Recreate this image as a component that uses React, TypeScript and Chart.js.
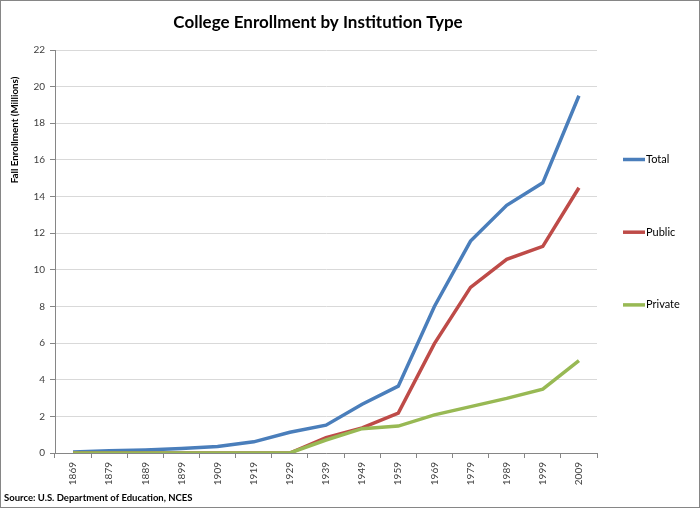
import React, { useEffect, useRef } from 'react';
import { Chart, registerables } from 'chart.js';
Chart.register(...registerables);

const years = ['1869', '1879', '1889', '1899', '1909', '1919', '1929', '1939', '1949', '1959', '1969', '1979', '1989', '1999', '2009'];
const totalValues = [0.05, 0.12, 0.16, 0.24, 0.36, 0.61, 1.13, 1.52, 2.66, 3.65, 8.0, 11.57, 13.52, 14.75, 19.5];
const publicValues = [0, 0, 0, 0, 0, 0, 0, 0.84, 1.37, 2.18, 5.97, 9.04, 10.57, 11.28, 14.48];
const privateValues = [0, 0, 0, 0, 0, 0, 0, 0.71, 1.33, 1.47, 2.08, 2.53, 2.98, 3.49, 5.04];
const seriesNames = ['Total', 'Public', 'Private'];
const seriesColors = ['#4a7ebb', '#be4b48', '#98b954'];

const titleText = 'College Enrollment by Institution Type';
const yTitleText = 'Fall Enrollment (Millions)';
const sourceText = 'Source: U.S. Department of Education, NCES';

const FONT = 'Lato, "Open Sans", sans-serif';

export default function App() {
  const ref = useRef<HTMLCanvasElement>(null);
  useEffect(() => {
    if (!ref.current) return;
    const overlay = {
      id: 'overlay',
      afterDraw(chart: any) {
        const ctx = chart.ctx;
        ctx.save();
        ctx.strokeStyle = '#868686';
        ctx.lineWidth = 1;
        ctx.strokeRect(0.5, 0.5, 699, 507);
        ctx.fillStyle = '#000';
        ctx.textBaseline = 'middle';
        ctx.textAlign = 'center';
        ctx.font = `bold 17px ${FONT}`;
        ctx.fillText(titleText, 318, 23);
        ctx.save();
        ctx.translate(15, 130);
        ctx.rotate(-Math.PI / 2);
        ctx.font = `bold 9.8px ${FONT}`;
        ctx.fillText(yTitleText, 0, 0);
        ctx.restore();
        ctx.textAlign = 'left';
        ctx.font = `bold 9.5px ${FONT}`;
        ctx.fillText(sourceText, 4, 498);
        ctx.font = `11px ${FONT}`;
        chart.data.datasets.forEach((ds: any, i: number) => {
          const y = 159.5 + i * 72.7;
          ctx.strokeStyle = ds.borderColor;
          ctx.lineWidth = 3.5;
          ctx.beginPath();
          ctx.moveTo(623, y);
          ctx.lineTo(645, y);
          ctx.stroke();
          ctx.fillStyle = '#000';
          ctx.fillText(ds.label, 646, y);
        });
        ctx.restore();
      },
    };
    const series = [totalValues, publicValues, privateValues];
    const chart = new Chart(ref.current, {
      type: 'line',
      data: {
        labels: years,
        datasets: series.map((vals, i) => ({
          label: seriesNames[i],
          data: vals,
          borderColor: seriesColors[i],
          backgroundColor: seriesColors[i],
          borderWidth: 3.5,
          pointRadius: 0,
          tension: 0,
          order: 2 - i,
        })),
      },
      options: {
        responsive: false,
        animation: false,
        layout: { padding: { top: 50, right: 103, left: 0, bottom: 0 } },
        plugins: { legend: { display: false }, title: { display: false }, tooltip: { enabled: false } },
        scales: {
          x: {
            type: 'category',
            offset: true,
            grid: { display: true, drawOnChartArea: false, drawTicks: true, tickLength: 5, color: '#868686', offset: true },
            border: { color: '#868686' },
            ticks: { maxRotation: 90, minRotation: 90, autoSkip: false, font: { size: 10, family: FONT }, color: '#404040', padding: 4 },
            afterFit: (s: any) => { s.height = 55; },
          },
          y: {
            min: 0,
            max: 22,
            ticks: { stepSize: 2, font: { size: 10, family: FONT }, color: '#404040', padding: 5 },
            grid: { color: '#d9d9d9', tickLength: 5, tickColor: '#868686' },
            border: { color: '#868686' },
            afterFit: (s: any) => { s.width = 55; },
          },
        },
      },
      plugins: [overlay],
    });
    return () => chart.destroy();
  }, []);
  return (
    <div style={{ position: 'absolute', left: 0, top: 0, width: 700, height: 508, background: '#fff' }}>
      <canvas ref={ref} width={700} height={508} />
    </div>
  );
}
